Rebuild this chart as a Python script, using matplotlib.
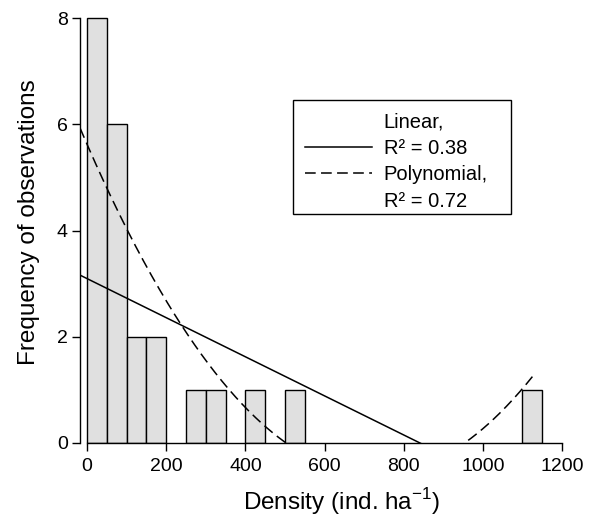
import numpy as np
import matplotlib
matplotlib.use("Agg")
from matplotlib import pyplot as plt
from matplotlib.lines import Line2D
from matplotlib.patches import Rectangle

plt.rcParams['font.family'] = ['Liberation Sans', 'DejaVu Sans']
plt.rcParams['mathtext.fontset'] = 'custom'
plt.rcParams['mathtext.rm'] = 'Liberation Sans'

# histogram of densities (bin left edge, count), bin width 50
bin_left = [0, 50, 100, 150, 250, 300, 400, 500, 1100]
counts = [8, 6, 2, 2, 1, 1, 1, 1, 1]
bin_width = 50

# fitted trend lines
lin_coef = [3.094, -0.003679]             # a + b*x
poly_coef = [5.62, -0.01707, 1.172e-5]    # a + b*x + c*x^2
fit_range = [-18, 1125]

xticks = [0, 200, 400, 600, 800, 1000, 1200]
yticks = [0, 2, 4, 6, 8]

W, H = 593, 519
fig = plt.figure(figsize=(W / 100, H / 100), dpi=100)
ax = fig.add_axes([0.1349, 0.14644, 0.8263, 0.8291])

ax.bar(bin_left, counts, width=bin_width, align='edge', color='#e0e0e0',
       edgecolor='black', linewidth=1.0, zorder=2)

xs = np.linspace(fit_range[0], fit_range[1], 400)
y_lin = lin_coef[0] + lin_coef[1] * xs
y_poly = poly_coef[0] + poly_coef[1] * xs + poly_coef[2] * xs ** 2
ax.plot(xs, y_lin, color='black', lw=1.1, zorder=3)
ax.plot(xs, y_poly, color='black', lw=1.1, dashes=(7, 3.5), zorder=3)

ax.set_xlim(-18, 1220)
ax.set_ylim(0, 8.1)
ax.set_xticks(xticks)
ax.set_yticks(yticks)
for s in ['top', 'right']:
    ax.spines[s].set_visible(False)
ax.spines['left'].set_bounds(0, 8)
ax.spines['bottom'].set_bounds(0, 1200)
for s in ['left', 'bottom']:
    ax.spines[s].set_linewidth(1.0)
ax.tick_params(direction='out', length=5.8, width=1.0, labelsize=14, pad=3)
ax.tick_params(axis='x', pad=5)

ax.set_xlabel(r'Density (ind. ha$^{-1}$)', fontsize=17.5, labelpad=8)
ax.set_ylabel('Frequency of observations', fontsize=17.5, labelpad=12)
ax.xaxis.label.set_x(0.533)
ax.yaxis.label.set_y(0.514)

blank = Line2D([], [], color='none')
solid = Line2D([], [], color='black', lw=1.1)
dashed = Line2D([], [], color='black', lw=1.1, dashes=(7, 3.5))
leg = ax.legend([blank, solid, dashed, blank],
                ['Linear,', 'R² = 0.38', 'Polynomial,', 'R² = 0.72'],
                loc='upper left', bbox_to_anchor=(293 / W, 1 - 100 / H),
                bbox_transform=fig.transFigure, borderaxespad=0,
                fontsize=14.5, handlelength=3.3, handletextpad=0.6,
                labelspacing=0.38, borderpad=0.6, frameon=False)

# legend frame drawn separately (tighter at the bottom, as in the original)
fig.patches.append(Rectangle((293 / W, 1 - 214 / H), (511 - 293) / W, 114 / H,
                             transform=fig.transFigure, fill=False,
                             edgecolor='black', linewidth=1.0))

fig.savefig('out.png', dpi=100)
